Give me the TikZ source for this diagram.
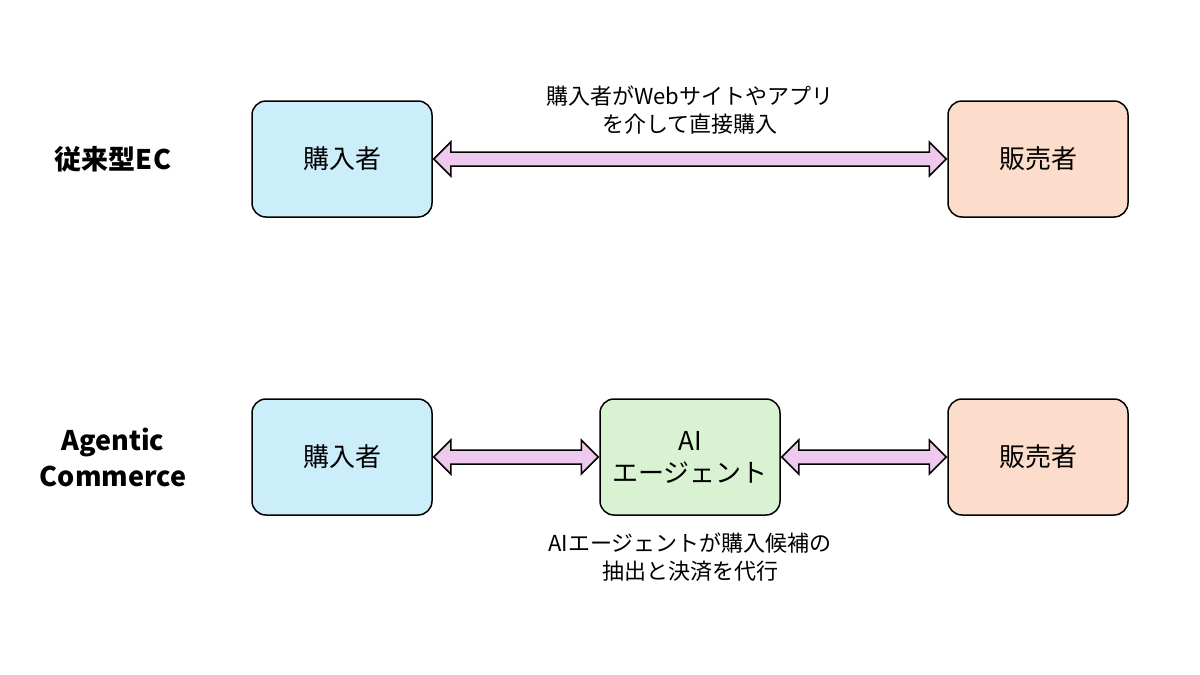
\documentclass[tikz,border=0pt]{standalone}
\usepackage{fontspec}
\setmainfont{Noto Sans CJK JP}
\usetikzlibrary{calc}
\definecolor{cblue}{HTML}{CCEEFB}
\definecolor{corange}{HTML}{FCDDCB}
\definecolor{cgreen}{HTML}{D9F3D2}
\definecolor{cpink}{HTML}{EFC8EE}
\begin{document}
\begin{tikzpicture}[x=1pt,y=-1pt,
  box/.style={draw=black,line width=1.5pt,rounded corners=14pt,minimum width=180pt,minimum height=116pt,inner sep=0pt,align=center,font=\fontsize{26}{32}\selectfont},
  lbl/.style={font=\fontsize{27}{36}\selectfont\bfseries,align=center},
  note/.style={font=\fontsize{22}{28}\selectfont,align=center},
  barrow/.style={draw=black,line width=1.5pt,fill=cpink,line join=miter}]
\useasboundingbox (0,0) rectangle (1200,675);
\newcommand{\blockarrow}[2]{%
  \draw[barrow] let \p1=(#1.east), \p2=(#2.west) in
   (\x1+1,\y1) -- (\x1+18,\y1-17) -- (\x1+18,\y1-7) -- (\x2-18,\y1-7) -- (\x2-18,\y1-17) -- (\x2-1,\y1)
   -- (\x2-18,\y1+17) -- (\x2-18,\y1+7) -- (\x1+18,\y1+7) -- (\x1+18,\y1+17) -- cycle;}
\node[lbl] (t1) at (113,159) {従来型EC};
\node[box,fill=cblue] (b1) at (342,159) {購入者};
\node[box,fill=corange] (s1) at (1038,159) {販売者};
\node[note] (n1) at (690,110) {購入者がWebサイトやアプリ\\を介して直接購入};
\blockarrow{b1}{s1}
\node[lbl] (t2) at (113,457) {Agentic\\Commerce};
\node[box,fill=cblue] (b2) at (342,457) {購入者};
\node[box,fill=cgreen] (a2) at (690,457) {AI\\エージェント};
\node[box,fill=corange] (s2) at (1038,457) {販売者};
\node[note] (n2) at (690,557) {AIエージェントが購入候補の\\抽出と決済を代行};
\blockarrow{b2}{a2}
\blockarrow{a2}{s2}
\end{tikzpicture}
\end{document}
